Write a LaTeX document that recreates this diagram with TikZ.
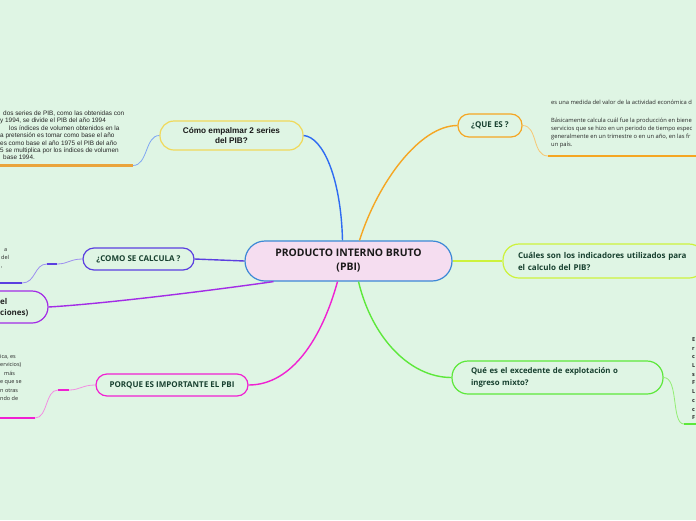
\documentclass[tikz,border=0pt]{standalone}
\usepackage{fontspec}
\setmainfont{Open Sans}
\newfontfamily\arialfont{Liberation Sans}
\usepackage{tikz}
\usetikzlibrary{positioning}

\definecolor{bg}{HTML}{DFF5E4}
\definecolor{ink}{HTML}{17402F}
\definecolor{pbiFill}{HTML}{F5DDF0}
\definecolor{pbiLine}{HTML}{3C88D6}
\definecolor{cBlue}{HTML}{2E6BF2}
\definecolor{cBlueL}{HTML}{7FA6F2}
\definecolor{cOrange}{HTML}{F5A623}
\definecolor{cOrangeL}{HTML}{F7C774}
\definecolor{cYellow}{HTML}{F0D95A}
\definecolor{cTan}{HTML}{EAA43C}
\definecolor{cLime}{HTML}{CDF23C}
\definecolor{cGreen}{HTML}{5DE83B}
\definecolor{cGreenL}{HTML}{93EE74}
\definecolor{cViolet}{HTML}{5B3FE0}
\definecolor{cVioletL}{HTML}{9C8EF0}
\definecolor{cPurple}{HTML}{A32CE6}
\definecolor{cMagenta}{HTML}{F020D2}
\definecolor{cMagentaL}{HTML}{F28EE2}

\begin{document}
\begin{tikzpicture}[x=1pt, y=-1pt,
        topic/.style={draw, line width=1.2pt, fill=bg, text=ink, align=center,
            inner sep=0pt, font=\fontsize{8}{12}\selectfont\bfseries},
        note/.style={anchor=north west, align=left, inner sep=0pt, text=black!85,
            font=\fontsize{5.5}{8}\selectfont},
        branch/.style={line width=1.4pt},
        twig/.style={line width=0.8pt},
        uline/.style={line width=2.2pt}]
        \fill[bg] (0,0) rectangle (696,520);
        \clip (0,0) rectangle (696,520);

        % central topic
        \node[topic, draw=pbiLine, fill=pbiFill, text=black!90, minimum width=207pt, minimum height=40pt,
            rounded corners=20pt, font=\fontsize{10.4}{14}\selectfont\bfseries] (pbi) at (348.5,261)
            {PRODUCTO INTERNO BRUTO\\(PBI)};

        % main topics
        \node[topic, draw=cOrange, minimum width=64pt, minimum height=23pt, rounded corners=11pt]
            (quees) at (490,125.5) {¿QUE ES ?};
        \node[topic, draw=cYellow, text=black!90, minimum width=143pt, minimum height=29pt, rounded corners=14pt,
            font=\arialfont\fontsize{8.2}{10}\selectfont\bfseries] (empalmar) at (231.5,135.5)
            {Cómo empalmar 2 series\\del PIB?};
        \node[topic, draw=cLime, minimum width=202pt, minimum height=34pt, rounded corners=16pt,
            text width=172pt, align=left] (indic) at (604,261)
            {Cuáles son los indicadores utilizados para\\el calculo del PIB?};
        \node[topic, draw=cGreen, minimum width=211pt, minimum height=33pt, rounded corners=16pt,
            text width=173pt, align=left, font=\fontsize{7.8}{12.5}\selectfont\bfseries] (excedente) at (557.5,377.5)
            {Qué es el excedente de explotación o\\ingreso mixto?};
        \node[topic, draw=cViolet, minimum width=111pt, minimum height=22pt, rounded corners=11pt]
            (calcula) at (138.5,259) {¿COMO SE CALCULA ?};
        \node[topic, draw=cPurple, minimum width=148pt, minimum height=32pt, rounded corners=16pt]
            (componentes) at (-26,307) {};
        \node[anchor=west, align=left, inner sep=0pt, text=black!85,
            font=\fontsize{8}{11}\selectfont\bfseries] (componentesTxt) at (0,307.5) {el\\ciones)};
        \node[topic, draw=cMagenta, minimum width=152pt, minimum height=22pt, rounded corners=11pt]
            (porque) at (172,385) {PORQUE ES IMPORTANTE EL PBI};

        % notes
        \node[note, font=\arialfont\fontsize{6.4}{7.4}\selectfont] (empNote) at (0,110.6)
            {\hspace*{3pt}dos series de PIB, como las obtenidas con\\
            y 1994, se divide el PIB del año 1994\\
            \hspace*{9pt}los índices de volumen obtenidos en la\\
            a pretensión es tomar como base el año\\
            es como base el año 1975 el PIB del año\\
            5 se multiplica por los índices de volumen\\
            \hspace*{3pt}base 1994.};
        \node[note, font=\fontsize{5.8}{8}\selectfont] (queNote) at (551,100.2)
            {es una medida del valor de la actividad económica d\\[10pt]
            Básicamente calcula cuál fue la producción en biene\\
            servicios que se hizo en un periodo de tiempo espec\\
            generalmente en un trimestre o en un año, en las fr\\
            un país.};
        \node[note] (calcNote) at (0,248.3) {\hspace*{4pt}a\\\hspace*{1pt}del\\\hspace*{1pt},};
        \node[note, font=\fontsize{5.5}{8.4}\selectfont] (porqueNote) at (0,354.3)
            {ica, es\\ervicios)\\\hspace*{4pt}más\\e que se\\n otras\\ndo de};
        \node[note, font=\fontsize{5.5}{8.7}\selectfont\bfseries] (excNote) at (692,337.3)
            {E\\r\\c\\L\\s\\F\\L\\c\\c\\F};

        % free ends of the branches
        \coordinate (empU) at (133,165.5);
        \coordinate (empU0) at (0,165.5);
        \coordinate (queU) at (548,156);
        \coordinate (queU1) at (696,156);
        \coordinate (calK1) at (57,264);
        \coordinate (calK0) at (47,264);
        \coordinate (calU) at (22,283);
        \coordinate (calU0) at (0,283);
        \coordinate (porK1) at (69,390);
        \coordinate (porK0) at (58,390);
        \coordinate (porU) at (35,418);
        \coordinate (porU0) at (0,418);
        \coordinate (excU) at (684,424);
        \coordinate (excU1) at (696,424);

        % branches from the centre
        \draw[branch, cBlue] ([xshift=-6pt]pbi.north) .. controls (341,178) and (323,137) .. (empalmar.east);
        \draw[branch, cOrange] ([xshift=11pt]pbi.north) .. controls (378,182) and (420,125.5) .. (quees.west);
        \draw[branch, cLime] (pbi.east) -- (indic.west);
        \draw[branch, cGreen] ([xshift=10pt]pbi.south) .. controls (372,338) and (410,377.5) .. (excedente.west);
        \draw[branch, cViolet] (pbi.west) -- (calcula.east);
        \draw[branch, cPurple] ([xshift=-75pt]pbi.south) .. controls (200,292) and (100,304) .. (componentes.east);
        \draw[branch, cMagenta] ([xshift=-11pt]pbi.south) .. controls (322,338) and (292,385) .. (porque.east);

        % twigs and underlines
        \draw[twig, cBlueL] (empalmar.west) .. controls (145,135.5) and (148,165.5) .. (empU);
        \draw[uline, cTan] (empU) -- (empU0);
        \draw[twig, cOrangeL] (quees.east) .. controls (538,125.5) and (532,156) .. (queU);
        \draw[uline, cOrange] (queU) -- (queU1);
        \draw[twig, cVioletL] (calcula.west) .. controls (70,259) and (68,264) .. (calK1);
        \draw[uline, cViolet] (calK1) -- (calK0);
        \draw[twig, cVioletL] (calK0) .. controls (34,264) and (36,283) .. (calU);
        \draw[uline, cViolet] (calU) -- (calU0);
        \draw[twig, cMagentaL] (porque.west) .. controls (82,385) and (80,390) .. (porK1);
        \draw[uline, cMagenta] (porK1) -- (porK0);
        \draw[twig, cMagentaL] (porK0) .. controls (45,390) and (48,418) .. (porU);
        \draw[uline, cMagenta] (porU) -- (porU0);
        \draw[twig, cGreenL] (excedente.east) .. controls (679,377.5) and (671,424) .. (excU);
        \draw[uline, cGreen] (excU) -- (excU1);
    \end{tikzpicture}
\end{document}
